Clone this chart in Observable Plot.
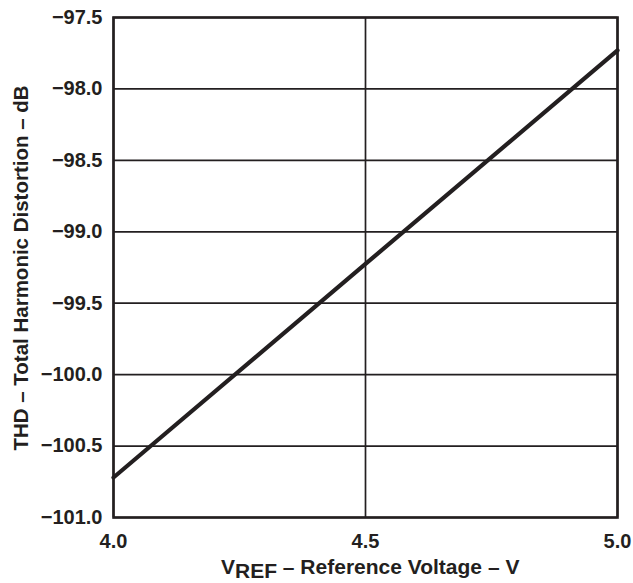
<!DOCTYPE html>
<html><head><meta charset="utf-8">
<script src="https://cdn.jsdelivr.net/npm/d3@7"></script>
<script src="https://cdn.jsdelivr.net/npm/@observablehq/plot@0.6"></script>
<style>body{margin:0;background:#fff}</style>
</head><body>
<div id="chart"></div>
<script>
const vref = [4.0, 4.5, 5.0];
const thd = [-100.72, -99.225, -97.73];
const yTicks = [-101.0, -100.5, -100.0, -99.5, -99.0, -98.5, -98.0, -97.5];
const xTicks = [4.0, 4.5, 5.0];
const yLabel = "THD – Total Harmonic Distortion – dB";
const xLabelParts = ["V", "REF", " – Reference Voltage – V"];

const data = vref.map((v, i) => ({x: v, y: thd[i]}));
const W = 633, H = 583, mL = 113, mR = 16, mT = 17, mB = 66;
const FONT = "Liberation Sans, Arial, Helvetica, sans-serif";
const INK = "#231f20";

const chart = Plot.plot({
  width: W, height: H,
  marginLeft: mL, marginRight: mR, marginTop: mT, marginBottom: mB,
  style: {fontFamily: FONT, fontSize: "20px", fontWeight: "bold", color: INK, background: "#fff"},
  x: {domain: [4.0, 5.0]},
  y: {domain: [-101.0, -97.5]},
  marks: [
    Plot.ruleY(yTicks, {stroke: INK, strokeWidth: 1.7}),
    Plot.ruleX(xTicks, {stroke: INK, strokeWidth: 1.7}),
    Plot.line(data, {x: "x", y: "y", stroke: INK, strokeWidth: 4.2}),
    Plot.frame({stroke: INK, strokeWidth: 2.6}),
    Plot.axisX({ticks: xTicks, tickFormat: d3.format(".1f"), tickSize: 0, tickPadding: 16, label: null, fontSize: 20, fontWeight: "bold", fill: INK}),
    Plot.axisY({ticks: yTicks, tickFormat: d3.format(".1f"), tickSize: 0, tickPadding: 11, label: null, fontSize: 20, fontWeight: "bold", fill: INK})
  ]
});
document.getElementById("chart").appendChild(chart);

const svg = d3.select(chart);
const xl = svg.append("text")
  .attr("x", 221).attr("y", 574)
  .attr("text-anchor", "start")
  .attr("fill", INK)
  .style("font-family", FONT)
  .style("font-weight", "bold").style("font-size", "21px");
xl.append("tspan").text(xLabelParts[0]);
xl.append("tspan").text(xLabelParts[1]).attr("dy", 4);
xl.append("tspan").text(xLabelParts[2]).attr("dy", -4);

svg.append("text")
  .attr("transform", `translate(28,268) rotate(-90)`)
  .attr("text-anchor", "middle")
  .attr("fill", INK)
  .style("font-family", FONT)
  .style("font-weight", "bold").style("font-size", "20.5px")
  .text(yLabel);
</script>
</body></html>
